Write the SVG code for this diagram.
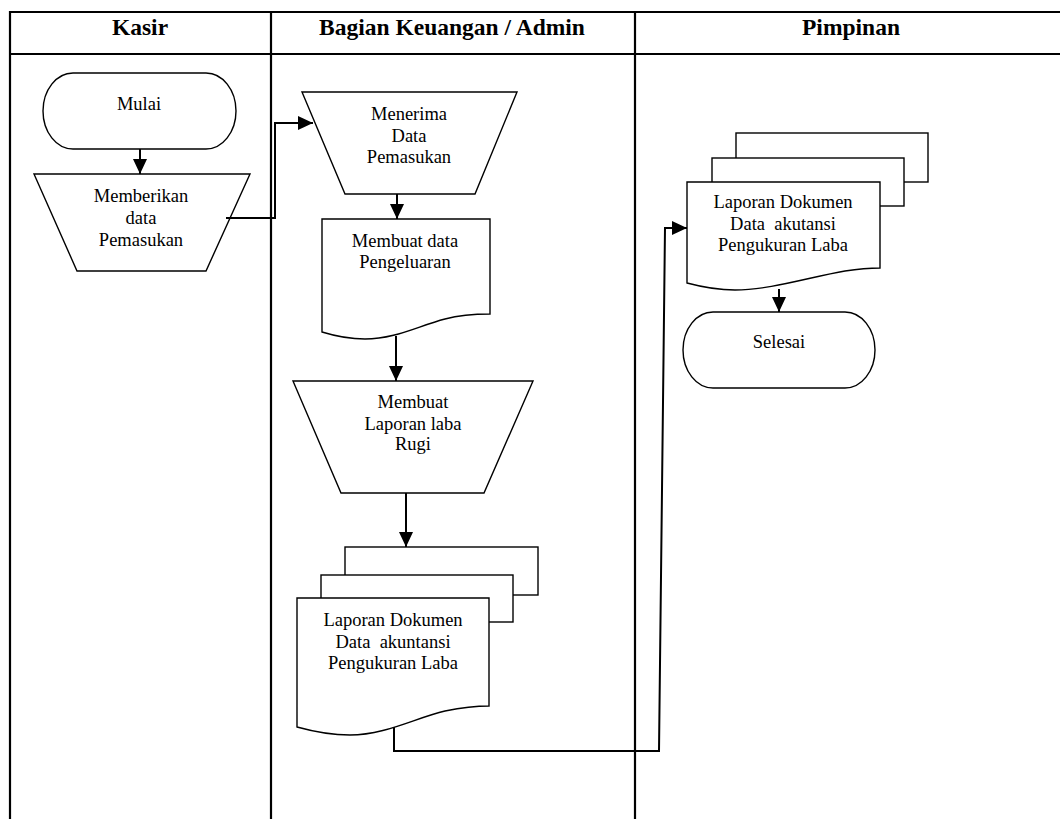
<svg xmlns="http://www.w3.org/2000/svg" width="1060" height="819" viewBox="0 0 1060 819">
<defs>
<style>
.tbl{stroke:#000;stroke-width:2.2;fill:none}
.shape{stroke:#000;stroke-width:1.4;fill:#fff}
.conn{stroke:#000;stroke-width:2;fill:none}
.hd{font-family:"Liberation Serif","Times New Roman",serif;font-weight:bold;font-size:23.5px;text-anchor:middle;fill:#000}
.tx{font-family:"Liberation Serif","Times New Roman",serif;font-size:18.5px;text-anchor:middle;fill:#000;white-space:pre}
</style>
<marker id="arr" markerUnits="userSpaceOnUse" markerWidth="16" markerHeight="15" refX="15" refY="7" orient="auto">
<path d="M0,0 L15,7 L0,14 Z" fill="#000"/>
</marker>
</defs>
<rect width="1060" height="819" fill="#fff"/>
<g id="table">
<line class="tbl" x1="9" y1="12" x2="1060" y2="12"/>
<line class="tbl" x1="10" y1="54" x2="1060" y2="54"/>
<line class="tbl" x1="10" y1="11" x2="10" y2="819"/>
<line class="tbl" x1="271" y1="12" x2="271" y2="819"/>
<line class="tbl" x1="635" y1="12" x2="635" y2="819"/>
<text class="hd" x="140" y="35">Kasir</text>
<text class="hd" x="452" y="35">Bagian Keuangan / Admin</text>
<text class="hd" x="851" y="35">Pimpinan</text>
</g>
<g id="mulai">
<rect class="shape" x="43" y="73" width="193" height="76" rx="30" ry="38"/>
<text class="tx" x="139" y="110">Mulai</text>
</g>
<g id="memberikan">
<polygon class="shape" points="34,174 250,174 206,271 77,271"/>
<text class="tx" x="141" y="202">Memberikan</text>
<text class="tx" x="141" y="224">data</text>
<text class="tx" x="141" y="246">Pemasukan</text>
</g>
<g id="menerima">
<polygon class="shape" points="302,92 517,92 475,194 345,194"/>
<text class="tx" x="409" y="120">Menerima</text>
<text class="tx" x="409" y="142">Data</text>
<text class="tx" x="409" y="163">Pemasukan</text>
</g>
<g id="membuat-data">
<path class="shape" d="M322,219 H490 V314 C476,314 460,315 445,319 C418,326 395,339 365,339 C350,339 335,336 322,332 Z"/>
<text class="tx" x="405" y="247">Membuat data</text>
<text class="tx" x="405" y="268">Pengeluaran</text>
</g>
<g id="laporan-laba">
<polygon class="shape" points="293,381 533,381 484,493 341,493"/>
<text class="tx" x="413" y="408">Membuat</text>
<text class="tx" x="413" y="430">Laporan laba</text>
<text class="tx" x="413" y="450">Rugi</text>
</g>
<g id="dokumen-admin">
<rect class="shape" x="345" y="547" width="193" height="48"/>
<rect class="shape" x="321" y="575" width="192" height="47"/>
<path class="shape" d="M297,598 H489 V706 C475,706 460,708 445,711 C415,718 385,735 350,735 C332,735 315,732 297,727 Z"/>
<text class="tx" x="393" y="626">Laporan Dokumen</text>
<text class="tx" x="393" y="648">Data  akuntansi</text>
<text class="tx" x="393" y="669">Pengukuran Laba</text>
</g>
<g id="dokumen-pimpinan">
<rect class="shape" x="736" y="133" width="192" height="49"/>
<rect class="shape" x="712" y="158" width="192" height="48"/>
<path class="shape" d="M687,182 H880 V268 C868,268 858,269 845,271 C810,277 770,290 735,290 C718,290 702,287 687,283 Z"/>
<text class="tx" x="783" y="208">Laporan Dokumen</text>
<text class="tx" x="783" y="230">Data  akutansi</text>
<text class="tx" x="783" y="251">Pengukuran Laba</text>
</g>
<g id="selesai">
<rect class="shape" x="683" y="312" width="192" height="76" rx="30" ry="38"/>
<text class="tx" x="779" y="348">Selesai</text>
</g>
<g id="connectors">
<line class="conn" x1="140" y1="149" x2="140" y2="174" marker-end="url(#arr)"/>
<polyline class="conn" points="226,218 275,218 275,123 313,123" marker-end="url(#arr)"/>
<line class="conn" x1="397" y1="194" x2="397" y2="219" marker-end="url(#arr)"/>
<line class="conn" x1="396" y1="336" x2="396" y2="381" marker-end="url(#arr)"/>
<line class="conn" x1="406" y1="493" x2="406" y2="547" marker-end="url(#arr)"/>
<polyline class="conn" points="394,727 394,751 659,751 665,228 687,228" marker-end="url(#arr)"/>
<line class="conn" x1="779" y1="289" x2="779" y2="312" marker-end="url(#arr)"/>
</g>
</svg>
